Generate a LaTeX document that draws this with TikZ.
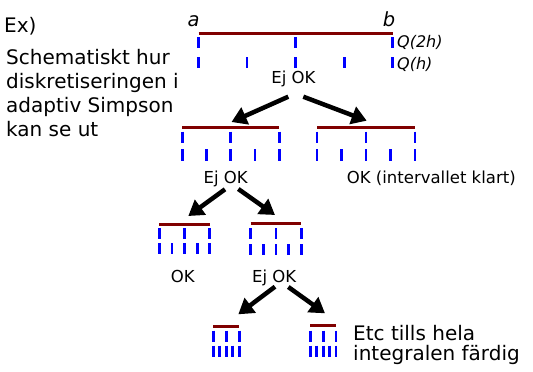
\documentclass[tikz,border=0pt]{standalone}
\usepackage{fontspec}
\setmainfont{DejaVu Sans}
\usetikzlibrary{arrows.meta}
\definecolor{ivlred}{RGB}{128,0,0}
\definecolor{tickblue}{RGB}{0,0,255}
\tikzset{
  redline/.style={draw=ivlred, line width=2.6pt},
  tickmark/.style={draw=tickblue, line width=2.8pt},
  bigtext/.style={inner sep=0pt, anchor=base west, font=\fontsize{20}{24}\selectfont},
  lbl/.style={inner sep=0pt, anchor=base, font=\fontsize{16.5}{20}\selectfont},
  qlbl/.style={inner sep=0pt, anchor=base west, font=\fontsize{16}{19}\selectfont\itshape},
  endlbl/.style={inner sep=0pt, anchor=base, font=\fontsize{19.5}{22}\selectfont\itshape},
  bigarrow/.style={draw=black, line width=4.5pt, -{Triangle[length=15pt,width=18pt]}},
}
% #1 x1, #2 x2, #3 line y, #4 #5 Q(2h) tick top/bottom, #6 #7 Q(h) tick top/bottom
\newcommand\myivl[7]{%
  \draw[redline] (#1,#3) -- (#2,#3);
  \foreach \f in {0,0.5,1} \draw[tickmark] ({#1+\f*(#2-#1)},#4) -- ({#1+\f*(#2-#1)},#5);
  \foreach \f in {0,0.25,0.5,0.75,1} \draw[tickmark] ({#1+\f*(#2-#1)},#6) -- ({#1+\f*(#2-#1)},#7);
}
\begin{document}
\begin{tikzpicture}[x=1pt,y=-1pt]
\useasboundingbox (0,0) rectangle (533,372);
\fill[white] (0,0) rectangle (533,372);

% left text
\node[bigtext] (ex) at (4,32.3) {Ex)};
\node[bigtext] (t1) at (6,64.3) {Schematiskt hur};
\node[bigtext] (t2) at (6,88.8) {diskretiseringen i};
\node[bigtext] (t3) at (6,112) {adaptiv Simpson};
\node[bigtext] (t4) at (6,136.3) {kan se ut};

% end text
\node[bigtext] (e1) at (353,340.7) {Etc tills hela};
\node[bigtext] (e2) at (353,360) {integralen färdig};

% level 1
\node[endlbl] (la) at (193.5,26) {a};
\node[endlbl] (lb) at (389,26) {b};
\myivl{198.5}{392.7}{33.5}{37}{48}{57}{68}
\node[qlbl] (q2h) at (397,47.5) {Q(2h)};
\node[qlbl] (qh) at (397,69) {Q(h)};
\node[lbl] (ej1) at (293.5,83.3) {Ej OK};

% level 2
\myivl{182.3}{279.3}{127.3}{131.7}{142.7}{149.3}{160.7}
\myivl{317}{415}{127.7}{131.7}{142.7}{149.3}{160.7}
\node[lbl] (ej2) at (225.7,183.3) {Ej OK};
\node[lbl] (ok2) at (431.3,183.3) {OK (intervallet klart)};

% level 3
\myivl{159.3}{209.7}{224.7}{228.3}{239.3}{243.3}{254.3}
\myivl{250.7}{301.3}{223.3}{228}{239}{244.3}{255.3}
\node[lbl] (ok3) at (182.7,282.7) {OK};
\node[lbl] (ej3) at (274.2,282.7) {Ej OK};

% level 4
\myivl{213.3}{239.3}{326.3}{330.7}{341.7}{345.7}{356.7}
\myivl{310.3}{336}{325.7}{330.7}{341.7}{345.7}{356.7}

% arrow coordinates
\coordinate (s1l) at (288.3,96.7);  \coordinate (d1l) at (231.5,122);
\coordinate (s1r) at (303.3,96.7);  \coordinate (d1r) at (366.7,120.7);
\coordinate (s2l) at (225,189.3);   \coordinate (d2l) at (188.3,216);
\coordinate (s2r) at (238.3,189);   \coordinate (d2r) at (275,215);
\coordinate (s3l) at (275,286.7);   \coordinate (d3l) at (238.3,314.3);
\coordinate (s3r) at (288.3,287);   \coordinate (d3r) at (325,313.3);

\draw[bigarrow] (s1l) -- (d1l);
\draw[bigarrow] (s1r) -- (d1r);
\draw[bigarrow] (s2l) -- (d2l);
\draw[bigarrow] (s2r) -- (d2r);
\draw[bigarrow] (s3l) -- (d3l);
\draw[bigarrow] (s3r) -- (d3r);
\end{tikzpicture}
\end{document}
